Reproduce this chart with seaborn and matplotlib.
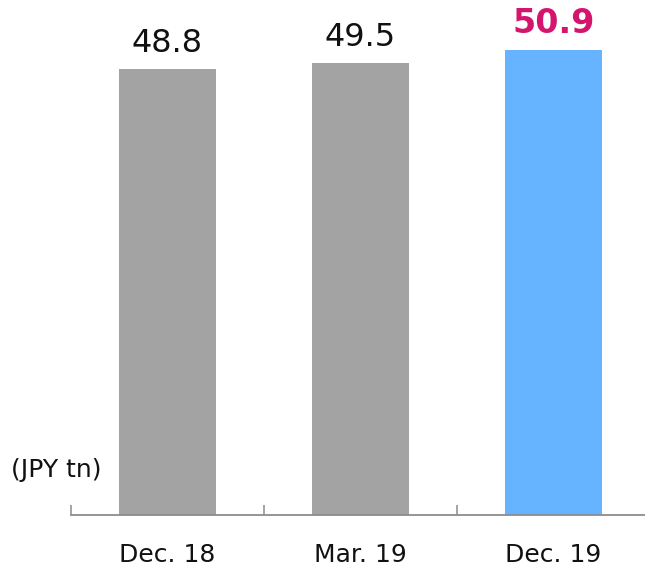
import matplotlib
matplotlib.use("Agg")
import matplotlib.pyplot as plt
import seaborn as sns
import pandas as pd

# data
periods = ["Dec. 18", "Mar. 19", "Dec. 19"]
values = [48.8, 49.5, 50.9]
bar_colors = ["#A3A3A3", "#A3A3A3", "#66B3FF"]
label_colors = ["#111111", "#111111", "#D4156E"]
label_weights = ["normal", "normal", "bold"]
label_sizes = [23, 23, 24]
unit_label = "(JPY tn)"

sns.set_theme(style="white")
plt.rcParams['font.family'] = ['DejaVu Sans']

df = pd.DataFrame({"period": periods, "value": values})

fig = plt.figure(figsize=(6.45, 5.67), dpi=100)
ax = fig.add_axes([71 / 645, 52 / 567, 579 / 645, 515 / 567])

sns.barplot(data=df, x="period", y="value", hue="period", palette=bar_colors,
            width=0.5, saturation=1, legend=False, linewidth=0, ax=ax)

ax.set_xlim(-0.5, 2.5)
ax.set_ylim(0, 56.35)

for i, v in enumerate(values):
    ax.annotate(f"{v:.1f}", (i, v), xytext=(0, 7), textcoords="offset points",
                ha="center", va="bottom", fontsize=label_sizes[i],
                color=label_colors[i], fontweight=label_weights[i])

# category labels at centres, tick marks at boundaries
ax.set_xticks(range(len(periods)))
ax.set_xticklabels(periods, fontsize=18, color="#111111")
ax.tick_params(axis="x", which="major", length=0, pad=20)
ax.set_xticks([-0.5, 0.5, 1.5, 2.5], minor=True)
ax.tick_params(axis="x", which="minor", direction="in", length=7,
               width=1.1, color="#8C8C8C", bottom=True)
ax.set_yticks([])
ax.set_xlabel("")
ax.set_ylabel("")

for side in ["top", "right", "left"]:
    ax.spines[side].set_visible(False)
ax.spines["bottom"].set_color("#8C8C8C")
ax.spines["bottom"].set_linewidth(1.3)

fig.text(56 / 645, 1 - 470 / 567, unit_label, ha="center", va="center",
         fontsize=18, color="#111111")

fig.savefig("out.png", dpi=100)
